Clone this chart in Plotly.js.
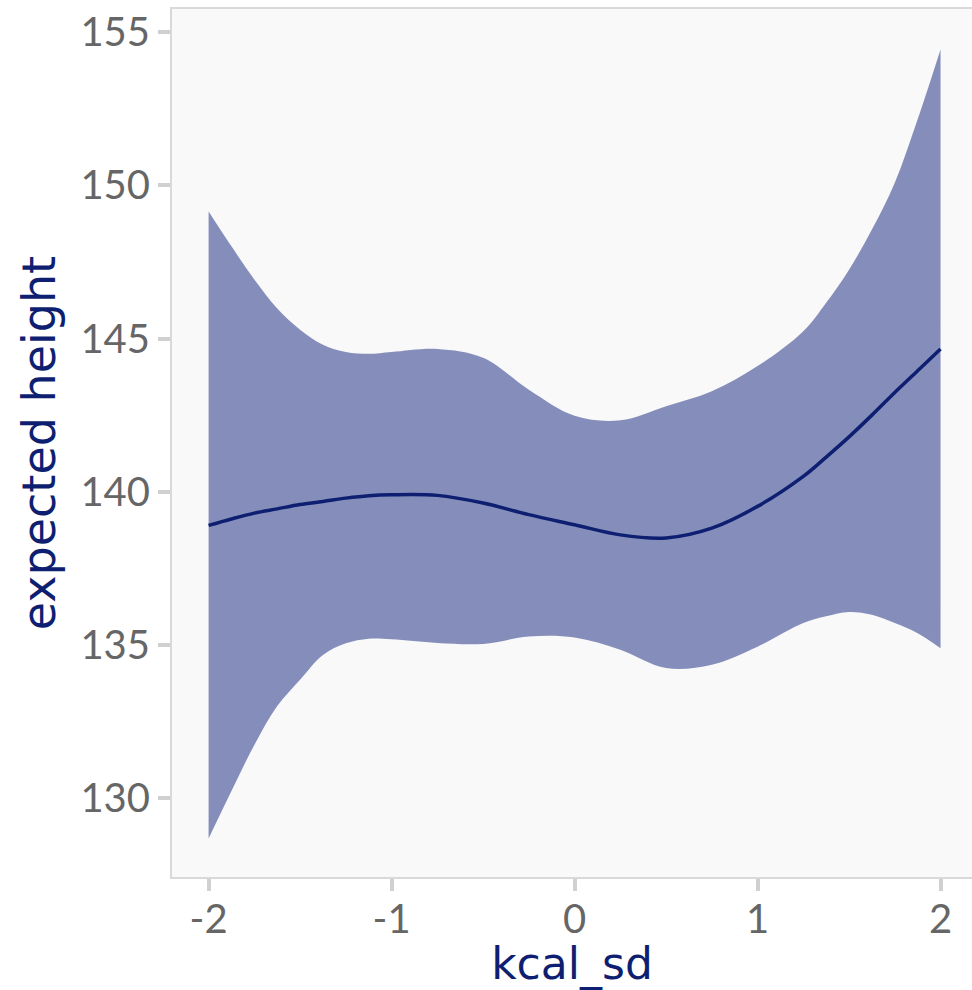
<!DOCTYPE html>
<html>
<head>
<meta charset="utf-8">
<script src="https://cdn.plot.ly/plotly-3.0.1.min.js"></script>
<style>html,body{margin:0;padding:0;background:#fff;overflow:hidden;}</style>
</head>
<body>
<div id="chart" style="width:972px;height:990px;"></div>
<script>
const kcalSd = [-2, -1.875, -1.75, -1.625, -1.5, -1.375, -1.25, -1.125, -1, -0.75, -0.5, -0.25, 0, 0.25, 0.5, 0.75, 1, 1.25, 1.375, 1.5, 1.625, 1.75, 1.875, 2];
const upperBand = [149.15, 148.01, 146.93, 145.98, 145.29, 144.8, 144.56, 144.5, 144.56, 144.66, 144.37, 143.33, 142.48, 142.33, 142.79, 143.28, 144.1, 145.24, 146.17, 147.25, 148.56, 150.09, 152.16, 154.44];
const lowerBand = [128.68, 130.23, 131.73, 133.0, 133.86, 134.67, 135.05, 135.2, 135.18, 135.06, 135.03, 135.27, 135.24, 134.84, 134.24, 134.35, 134.94, 135.71, 135.93, 136.07, 135.98, 135.71, 135.38, 134.89];
const meanHeight = [138.9, 139.11, 139.3, 139.44, 139.58, 139.68, 139.79, 139.87, 139.9, 139.88, 139.63, 139.25, 138.92, 138.59, 138.49, 138.81, 139.52, 140.5, 141.13, 141.79, 142.5, 143.24, 143.95, 144.66];
const xTicks = [-2, -1, 0, 1, 2];
const yTicks = [130, 135, 140, 145, 150, 155];

const tickFam = 'Lato, "Noto Sans", sans-serif';
const titleFam = '"DejaVu Sans", "Noto Sans", sans-serif';
const navy = '#0e1f72';

const traces = [
  {x: kcalSd, y: lowerBand, type: 'scatter', mode: 'lines',
   line: {width: 0, shape: 'spline', smoothing: 1}, hoverinfo: 'skip', showlegend: false},
  {x: kcalSd, y: upperBand, type: 'scatter', mode: 'lines', fill: 'tonexty',
   fillcolor: 'rgb(133,142,187)', line: {width: 0, shape: 'spline', smoothing: 1},
   hoverinfo: 'skip', showlegend: false},
  {x: kcalSd, y: meanHeight, type: 'scatter', mode: 'lines',
   line: {color: navy, width: 3.5, shape: 'spline', smoothing: 1}, showlegend: false}
];

const layout = {
  width: 972, height: 990,
  margin: {l: 172, r: 0, t: 9, b: 113},
  paper_bgcolor: '#ffffff',
  plot_bgcolor: '#f9f9f9',
  font: {family: tickFam, color: '#666666', size: 40},
  xaxis: {
    range: [-2.2, 2.172],
    tickvals: xTicks, ticktext: xTicks.map(String),
    showgrid: false, zeroline: false,
    showline: true, linecolor: '#d9d9d9', linewidth: 2, mirror: true,
    ticks: 'outside', ticklen: 12, tickwidth: 4, tickcolor: '#d0d0d0',
    ticklabelstandoff: -6,
    tickfont: {family: tickFam, size: 40, color: '#666666'},
    title: {text: 'kcal_sd', font: {family: titleFam, size: 44, color: navy}, standoff: 4}
  },
  yaxis: {
    range: [127.42, 155.76],
    tickvals: yTicks, ticktext: yTicks.map(String),
    showgrid: false, zeroline: false,
    showline: true, linecolor: '#d9d9d9', linewidth: 2, mirror: false,
    ticks: 'outside', ticklen: 12, tickwidth: 4, tickcolor: '#d0d0d0',
    tickfont: {family: tickFam, size: 40, color: '#666666'},
    title: {text: 'expected height', font: {family: titleFam, size: 46, color: navy}, standoff: 10}
  }
};

Plotly.newPlot('chart', traces, layout, {displayModeBar: false, staticPlot: true});
</script>
</body>
</html>
